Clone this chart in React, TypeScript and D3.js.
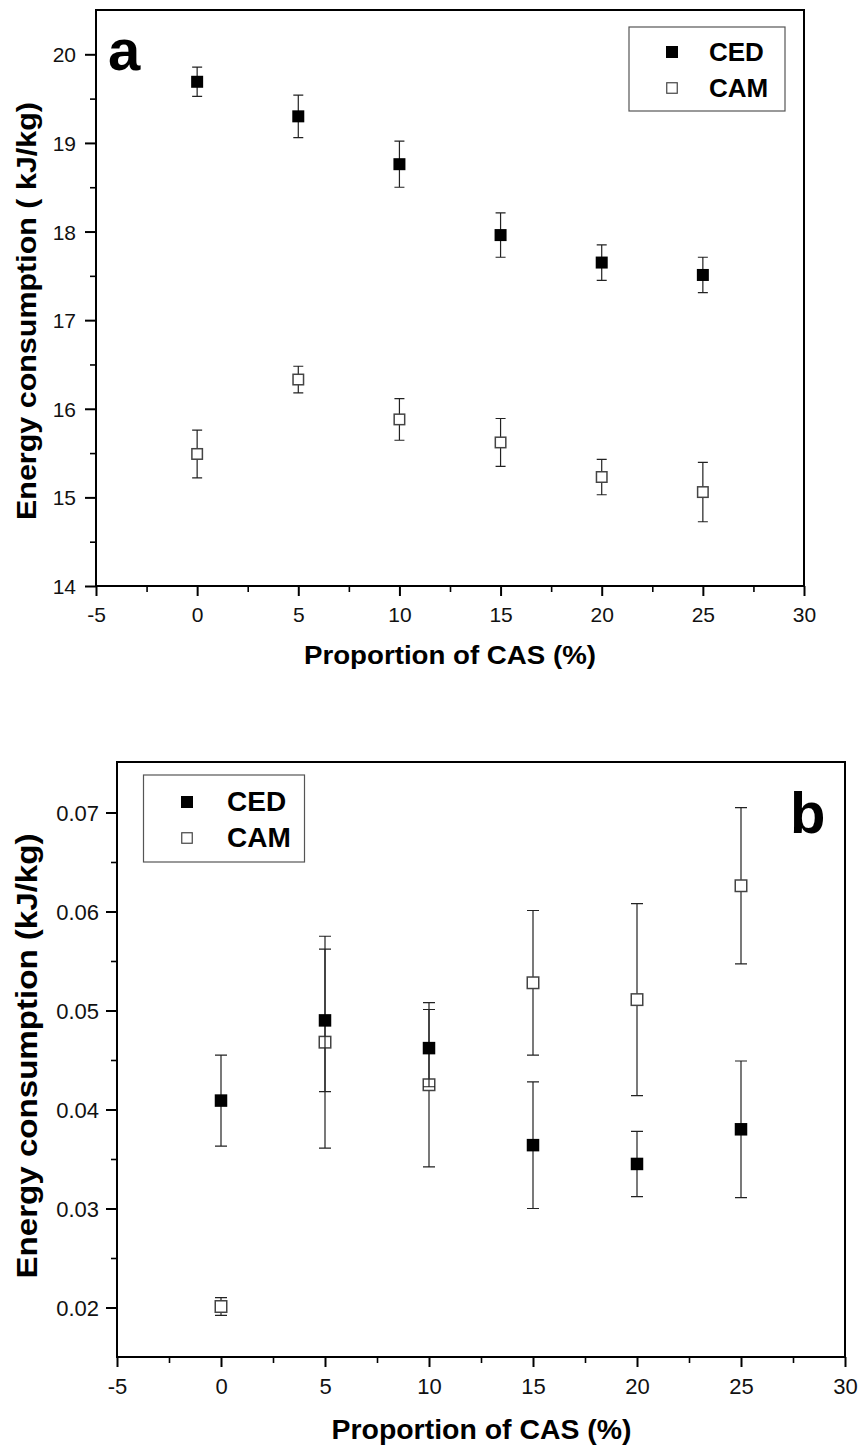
import React, { useEffect, useRef } from 'react';
import * as d3 from 'd3';

// CAS proportion (%)
const cas = [0, 5, 10, 15, 20, 25];

// panel a – energy consumption (kJ/kg)
const cedA = [19.69, 19.3, 18.76, 17.96, 17.65, 17.51];
const cedAErr = [0.165, 0.24, 0.26, 0.25, 0.2, 0.2];
const camA = [15.49, 16.33, 15.88, 15.62, 15.23, 15.06];
const camAErr = [0.27, 0.15, 0.235, 0.27, 0.2, 0.335];

// panel b – energy consumption (kJ/kg)
const cedB = [0.0409, 0.049, 0.0462, 0.0364, 0.0345, 0.038];
const cedBErr = [0.0046, 0.0072, 0.0039, 0.0064, 0.0033, 0.0069];
const camB = [0.0201, 0.0468, 0.0425, 0.0528, 0.0511, 0.0626];
const camBErr = [0.0009, 0.0107, 0.0083, 0.0073, 0.0097, 0.0079];

const xTicks = [-5, 0, 5, 10, 15, 20, 25, 30];
const xMinor = [-2.5, 2.5, 7.5, 12.5, 17.5, 22.5, 27.5];
const yTicksA = [14, 15, 16, 17, 18, 19, 20];
const yMinorA = [14.5, 15.5, 16.5, 17.5, 18.5, 19.5];
const yTicksB = [0.02, 0.03, 0.04, 0.05, 0.06, 0.07];
const yMinorB = [0.025, 0.035, 0.045, 0.055, 0.065];

const seriesNames = ['CED', 'CAM'];

const FONT = '"Liberation Sans", Arial, Helvetica, sans-serif';

const panels = [
  {
    label: 'a',
    left: 96, right: 804, top: 10, bottom: 586,
    yDomain: [14, 20.5],
    yTicks: yTicksA, yMinor: yMinorA,
    yFmt: (d: number) => String(d),
    ced: cedA, cedErr: cedAErr, cam: camA, camErr: camAErr,
    capW: 10, markFilled: 12, markOpen: 10.5,
    tickFont: 21, xLabelBase: 622, yLabelGap: 20,
    xTitle: { x: 450, y: 664, size: 26, len: 292 },
    yTitle: { x: 36, y: 311, size: 28, len: 418, text: 'Energy consumption ( kJ/kg)' },
    legend: { x0: 629, y0: 27, x1: 785, y1: 111, mx: 672, my: [52, 88], tx: 709, ty: [61, 97], size: 26 },
    letter: { x: 108, y: 70, size: 58 },
  },
  {
    label: 'b',
    left: 117, right: 845, top: 762, bottom: 1357,
    yDomain: [0.015, 0.0751],
    yTicks: yTicksB, yMinor: yMinorB,
    yFmt: (d: number) => d.toFixed(2),
    ced: cedB, cedErr: cedBErr, cam: camB, camErr: camBErr,
    capW: 12, markFilled: 12.5, markOpen: 11.5,
    tickFont: 22, xLabelBase: 1394, yLabelGap: 18,
    xTitle: { x: 481.5, y: 1439, size: 27, len: 300 },
    yTitle: { x: 37, y: 1056, size: 29, len: 445, text: 'Energy consumption (kJ/kg)' },
    legend: { x0: 143.5, y0: 775, x1: 304.5, y1: 862, mx: 187, my: [802, 838], tx: 227, ty: [811, 847], size: 28 },
    letter: { x: 790, y: 833, size: 58 },
  },
];

const App = () => {
  const ref = useRef<SVGSVGElement | null>(null);

  useEffect(() => {
    const svg = d3.select(ref.current);
    svg.selectAll('*').remove();

    panels.forEach((p) => {
      const x = d3.scaleLinear().domain([-5, 30]).range([p.left, p.right]);
      const y = d3.scaleLinear().domain(p.yDomain).range([p.bottom, p.top]);
      const g = svg.append('g');

      // frame (top + right)
      g.append('path')
        .attr('d', `M${p.left},${p.top}H${p.right}V${p.bottom}`)
        .attr('fill', 'none').attr('stroke', '#000').attr('stroke-width', 2);

      // minor ticks
      g.append('g')
        .attr('transform', `translate(0,${p.bottom})`)
        .call(d3.axisBottom(x).tickValues(xMinor).tickSize(6).tickSizeOuter(0).tickFormat(() => ''))
        .call((s) => s.select('.domain').remove())
        .call((s) => s.selectAll('line').attr('stroke-width', 1.6));
      g.append('g')
        .attr('transform', `translate(${p.left},0)`)
        .call(d3.axisLeft(y).tickValues(p.yMinor).tickSize(6).tickSizeOuter(0).tickFormat(() => ''))
        .call((s) => s.select('.domain').remove())
        .call((s) => s.selectAll('line').attr('stroke-width', 1.6));

      // major axes
      const xa = g.append('g')
        .attr('transform', `translate(0,${p.bottom})`)
        .call(d3.axisBottom(x).tickValues(xTicks).tickSize(10).tickSizeOuter(0).tickPadding(0)
          .tickFormat((d: any) => String(d)));
      xa.select('.domain').attr('stroke-width', 2).attr('d', `M${p.left - 1},0H${p.right + 1}`);
      xa.selectAll('line').attr('stroke-width', 2);
      xa.selectAll('text')
        .attr('y', p.xLabelBase - p.bottom).attr('dy', null)
        .attr('font-size', p.tickFont).attr('font-family', FONT).attr('fill', '#111');

      const ya = g.append('g')
        .attr('transform', `translate(${p.left},0)`)
        .call(d3.axisLeft(y).tickValues(p.yTicks).tickSize(11).tickSizeOuter(0).tickFormat(p.yFmt as any));
      ya.select('.domain').attr('stroke-width', 2).attr('d', `M0,${p.bottom + 1}V${p.top - 1}`);
      ya.selectAll('line').attr('stroke-width', 2);
      ya.selectAll('text')
        .attr('x', -p.yLabelGap).attr('dy', '0.36em')
        .attr('font-size', p.tickFont).attr('font-family', FONT).attr('fill', '#111');

      // series
      const series = [
        { v: p.cam, e: p.camErr, filled: false },
        { v: p.ced, e: p.cedErr, filled: true },
      ];
      series.forEach((s) => {
        const rows = cas.map((c, i) => ({ c, v: s.v[i], e: s.e[i] }));
        const eb = g.append('g').attr('stroke', '#222').attr('stroke-width', 1.2).attr('fill', 'none');
        eb.selectAll('path.bar')
          .data(rows)
          .join('path')
          .attr('class', 'bar')
          .attr('d', (d) => {
            const cx = x(d.c);
            const hi = y(d.v + d.e);
            const lo = y(d.v - d.e);
            const w = p.capW / 2;
            return `M${cx},${hi}V${lo}M${cx - w},${hi}H${cx + w}M${cx - w},${lo}H${cx + w}`;
          });
        const sz = s.filled ? p.markFilled : p.markOpen;
        g.append('g')
          .selectAll('rect')
          .data(rows)
          .join('rect')
          .attr('x', (d) => x(d.c) - sz / 2)
          .attr('y', (d) => y(d.v) - sz / 2)
          .attr('width', sz)
          .attr('height', sz)
          .attr('fill', s.filled ? '#000' : '#fff')
          .attr('stroke', s.filled ? 'none' : '#444')
          .attr('stroke-width', 1.5);
      });

      // legend
      const L = p.legend;
      g.append('rect')
        .attr('x', L.x0).attr('y', L.y0)
        .attr('width', L.x1 - L.x0).attr('height', L.y1 - L.y0)
        .attr('fill', '#fff').attr('stroke', '#555').attr('stroke-width', 1.2);
      seriesNames.forEach((name, i) => {
        const filled = i === 0;
        const sz = filled ? 12 : 10.5;
        g.append('rect')
          .attr('x', L.mx - sz / 2).attr('y', L.my[i] - sz / 2)
          .attr('width', sz).attr('height', sz)
          .attr('fill', filled ? '#000' : '#fff')
          .attr('stroke', filled ? 'none' : '#444').attr('stroke-width', 1.2);
        g.append('text')
          .attr('x', L.tx).attr('y', L.ty[i])
          .attr('font-family', FONT).attr('font-weight', 'bold').attr('font-size', L.size)
          .text(name);
      });

      // panel letter
      g.append('text')
        .attr('x', p.letter.x).attr('y', p.letter.y)
        .attr('font-family', FONT).attr('font-weight', 'bold').attr('font-size', p.letter.size)
        .text(p.label);

      // axis titles
      g.append('text')
        .attr('x', p.xTitle.x).attr('y', p.xTitle.y)
        .attr('text-anchor', 'middle')
        .attr('font-family', FONT).attr('font-weight', 'bold').attr('font-size', p.xTitle.size)
        .attr('textLength', p.xTitle.len).attr('lengthAdjust', 'spacingAndGlyphs')
        .text('Proportion of CAS (%)');
      g.append('text')
        .attr('transform', `translate(${p.yTitle.x},${p.yTitle.y}) rotate(-90)`)
        .attr('text-anchor', 'middle')
        .attr('font-family', FONT).attr('font-weight', 'bold').attr('font-size', p.yTitle.size)
        .attr('textLength', p.yTitle.len).attr('lengthAdjust', 'spacingAndGlyphs')
        .text(p.yTitle.text);
    });
  }, []);

  return (
    <svg
      ref={ref}
      width={861}
      height={1447}
      style={{ position: 'absolute', left: 0, top: 0, background: '#fff' }}
    />
  );
};

export default App;
